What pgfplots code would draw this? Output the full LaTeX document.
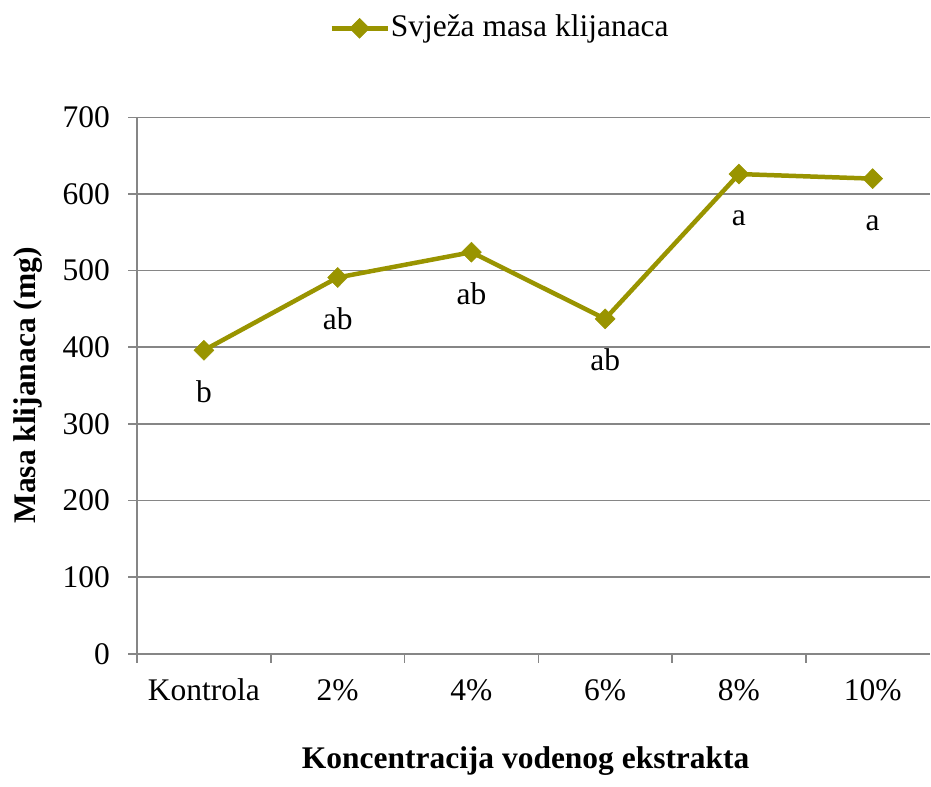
\documentclass[border=0pt]{standalone}
\usepackage{fontspec}
\setmainfont{Liberation Serif}
\usepackage{pgfplots}
\pgfplotsset{compat=1.18}
\definecolor{olivel}{RGB}{153,148,0}
\definecolor{gridgray}{RGB}{134,134,134}
\begin{document}
\fontsize{31.5}{37}\selectfont
\begin{tikzpicture}
\begin{axis}[
  scale only axis, width=794pt, height=537pt,
  xmin=-0.5, xmax=5.43, ymin=0, ymax=700,
  xtick={0,1,2,3,4,5},
  xticklabels={Kontrola,2\%,4\%,6\%,8\%,10\%},
  minor xtick={-0.5,0.5,1.5,2.5,3.5,4.5},
  ytick={0,100,...,700},
  /pgf/number format/assume math mode=true,
  axis x line*=bottom, axis y line*=left,
  axis line style={gridgray, line width=1.6pt},
  tick align=outside,
  major x tick style={draw=none},
  minor x tick style={gridgray, line width=1.6pt},
  major y tick style={gridgray, line width=1.6pt},
  major tick length=9pt, minor tick length=9pt,
  ymajorgrids, grid style={gridgray, line width=1.6pt},
  yticklabel style={inner xsep=0pt, xshift=-18pt},
  xticklabel style={anchor=north, inner sep=0pt, text height=22pt, text depth=0pt, yshift=-16pt},
  xlabel={\bfseries Koncentracija vodenog ekstrakta},
  xlabel style={at={(axis description cs:0.49,0)}, anchor=base, yshift=-115pt},
  ylabel={\bfseries Masa klijanaca (mg)},
  ylabel style={at={(axis description cs:-0.137,0.5)}, anchor=center, inner ysep=14pt},
  legend style={at={(axis description cs:0.457,1.166)}, anchor=center, draw=none, fill=none, inner xsep=0pt, inner ysep=14pt, nodes={inner sep=1pt}},
  legend image code/.code={\draw[mark repeat=2,mark phase=2,#1] plot coordinates {(0pt,0pt)(28pt,0pt)(56pt,0pt)};},
  nodes near coords, point meta=explicit symbolic,
  every node near coord/.append style={anchor=base, yshift=-52pt, black},
  clip=false,
]
\addplot[color=olivel, line width=4.5pt, mark=diamond*, mark size=10pt,
  mark options={xscale=1.33, line width=0.5pt, fill=olivel, solid}]
  table[meta=lab] {
x y lab
0 396 b
1 491 ab
2 524 ab
3 437 ab
4 626 a
5 620 a
};
\addlegendentry{Svježa masa klijanaca}
\end{axis}
\end{tikzpicture}
\end{document}
